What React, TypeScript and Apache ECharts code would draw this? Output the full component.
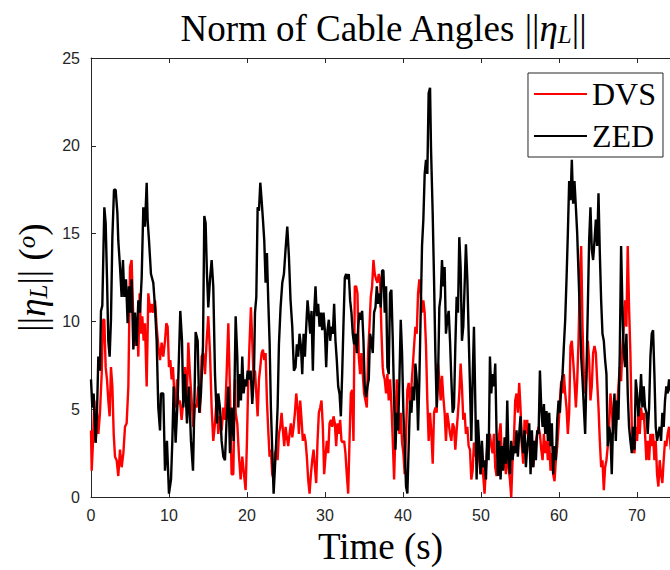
import React, { useEffect, useRef } from "react";
import * as echarts from "echarts";

const xTicks = [0, 10, 20, 30, 40, 50, 60, 70];
const xMax = 74.25;

const dvsData: [number, number][] = [
  [0.0, 3.8], [0.09, 1.5], [0.26, 3.2], [0.43, 5.5], [0.6, 3.1], [0.77, 4.8], [0.94, 3.6], [1.15, 4.8], [1.37, 7.0], [1.54, 10.1],
  [1.71, 10.1], [1.88, 7.4], [2.05, 6.7], [2.22, 5.5], [2.39, 4.6], [2.56, 7.4], [2.74, 6.3], [2.91, 3.6], [3.08, 2.3], [3.29, 2.1],
  [3.5, 1.2], [3.72, 2.7], [3.93, 1.7], [4.15, 2.5], [4.36, 4.0], [4.57, 4.2], [4.79, 6.3], [5.0, 13.1], [5.21, 13.5], [5.38, 10.8],
  [5.56, 8.6], [5.73, 9.7], [5.9, 10.1], [6.07, 8.0], [6.24, 11.6], [6.41, 9.3], [6.58, 10.3], [6.75, 8.9], [6.92, 9.9], [7.14, 6.3],
  [7.35, 11.6], [7.61, 10.5], [7.78, 11.0], [7.99, 10.5], [8.21, 11.2], [8.42, 9.7], [8.63, 8.6], [8.85, 7.8], [9.06, 8.8], [9.27, 8.0],
  [9.49, 8.9], [9.66, 9.9], [9.83, 9.7], [10.0, 7.4], [10.17, 7.8], [10.34, 6.7], [10.51, 7.4], [10.68, 5.9], [10.85, 5.1], [11.03, 6.7],
  [11.2, 5.3], [11.41, 5.5], [11.62, 4.4], [11.84, 5.5], [12.05, 7.4], [12.26, 5.1], [12.48, 8.8], [12.69, 7.0], [12.91, 5.5], [13.12, 4.0],
  [13.33, 5.3], [13.55, 5.1], [13.76, 6.3], [13.97, 4.8], [14.19, 8.0], [14.4, 8.2], [14.62, 7.0], [14.83, 8.9], [15.04, 10.3], [15.26, 8.2],
  [15.47, 5.1], [15.68, 3.2], [15.9, 4.2], [16.11, 5.7], [16.32, 3.6], [16.54, 4.6], [16.75, 3.8], [16.97, 5.1], [17.18, 4.4], [17.39, 7.0],
  [17.61, 9.9], [17.82, 6.1], [18.03, 1.3], [18.25, 1.3], [18.46, 6.7],
  [18.55, 4.8], [18.76, 4.2], [18.98, 2.3], [19.19, 1.0], [19.4, 2.3], [19.62, 1.3], [19.83, 0.4], [20.0, 3.2], [20.17, 6.7], [20.34, 8.9],
  [20.51, 10.8], [20.68, 8.9], [20.85, 6.7], [21.03, 7.2], [21.2, 5.9], [21.37, 4.6], [21.54, 6.7], [21.71, 7.4], [21.88, 8.2], [22.05, 8.4],
  [22.22, 7.8], [22.39, 8.2], [22.56, 5.5], [22.73, 3.8], [22.9, 2.3], [23.07, 2.7], [23.24, 1.3], [23.42, 1.0], [23.59, 2.5], [23.76, 2.7],
  [23.93, 2.1], [24.1, 3.6], [24.27, 4.0], [24.44, 4.8], [24.61, 3.8], [24.78, 2.9], [24.95, 4.0], [25.12, 3.4], [25.29, 2.9], [25.46, 3.6],
  [25.63, 4.2], [25.81, 3.4], [25.98, 4.0], [26.15, 4.8], [26.32, 5.9], [26.49, 5.1], [26.66, 3.6], [26.83, 5.5], [27.0, 4.4], [27.17, 3.2],
  [27.34, 3.6], [27.51, 3.2], [27.68, 2.3], [27.85, 1.0], [28.03, 0.2], [28.2, 1.3], [28.37, 2.1], [28.54, 2.7], [28.71, 1.7], [28.88, 0.8],
  [29.05, 3.2], [29.22, 4.8], [29.39, 5.1], [29.56, 5.5], [29.73, 4.0], [29.9, 1.3], [30.07, 2.3], [30.24, 3.2], [30.42, 2.5], [30.59, 4.2],
  [30.76, 4.4], [30.93, 4.0], [31.1, 4.6], [31.27, 4.2], [31.44, 2.9], [31.61, 4.2], [31.78, 3.6], [31.95, 4.4], [32.12, 3.2], [32.29, 3.1],
  [32.46, 3.2], [32.63, 2.5], [32.8, 1.3], [32.98, 0.2], [33.15, 3.2], [33.32, 5.9], [33.49, 6.1], [33.66, 3.2], [33.83, 12.0], [34.0, 12.0],
  [34.17, 11.6], [34.34, 8.0], [34.51, 7.0], [34.68, 8.2], [34.85, 7.0], [35.02, 5.9], [35.2, 5.5], [35.37, 5.1], [35.54, 8.2], [35.71, 9.7],
  [35.88, 11.4], [36.05, 12.0], [36.22, 13.5], [36.39, 12.7], [36.56, 12.4], [36.73, 12.2], [36.9, 12.7], [37.07, 12.4], [37.24, 9.5], [37.41, 7.4],
  [37.5, 7.0], [37.67, 6.7], [37.84, 5.9], [38.01, 7.0], [38.18, 5.5], [38.35, 6.7], [38.52, 5.3], [38.7, 3.2], [38.87, 1.0], [39.04, 3.8],
  [39.21, 6.7], [39.38, 4.8], [39.55, 3.6], [39.72, 4.8], [39.89, 3.1], [40.06, 2.5], [40.23, 1.3], [40.4, 3.6], [40.57, 6.1], [40.74, 6.5],
  [40.91, 5.3], [41.09, 6.3], [41.26, 7.4], [41.43, 8.6], [41.6, 9.7], [41.77, 9.3], [41.94, 11.6], [42.11, 12.4], [42.28, 11.6], [42.45, 10.5],
  [42.62, 11.2], [42.79, 10.5], [42.96, 8.6], [43.13, 5.5], [43.3, 3.2], [43.48, 4.8], [43.65, 3.6], [43.82, 1.9], [43.99, 4.8], [44.16, 5.1],
  [44.33, 4.8], [44.5, 7.6], [44.67, 6.7], [44.84, 5.5], [45.01, 6.9], [45.18, 5.7], [45.35, 4.8], [45.52, 3.2], [45.69, 4.8], [45.87, 4.2],
  [46.04, 3.6], [46.21, 3.2], [46.38, 4.2], [46.55, 4.0], [46.72, 2.7], [46.89, 3.8], [47.06, 4.8], [47.23, 5.9], [47.4, 7.6], [47.57, 6.3],
  [47.74, 4.4], [47.91, 4.8], [48.08, 3.6], [48.26, 4.0], [48.43, 2.9], [48.6, 2.7], [48.77, 1.0], [48.94, 1.5], [49.11, 3.1], [49.28, 2.3],
  [49.45, 3.6], [49.62, 3.2], [49.79, 2.1], [49.96, 1.3], [50.13, 2.1], [50.3, 1.2], [50.47, 0.2], [50.65, 1.7], [50.82, 2.9], [50.99, 3.2],
  [51.16, 3.6], [51.33, 2.9], [51.5, 2.5], [51.67, 3.6], [51.84, 1.7], [52.01, 1.2], [52.18, 1.9], [52.35, 3.6], [52.52, 4.2], [52.69, 2.3],
  [52.86, 1.7], [53.04, 2.3], [53.21, 1.3], [53.38, 2.7], [53.55, 1.7], [53.72, 1.0], [53.89, 0.0], [54.06, 2.1], [54.23, 3.2], [54.4, 5.5],
  [54.57, 5.9], [54.74, 4.8], [54.91, 6.5], [55.08, 5.1], [55.25, 2.9], [55.43, 1.9], [55.6, 4.4], [55.77, 3.6], [55.94, 4.4], [56.11, 2.9],
  [56.2, 3.2], [56.37, 2.1], [56.54, 3.2], [56.71, 1.7], [56.88, 2.5], [57.05, 3.2], [57.22, 3.6], [57.4, 4.0], [57.57, 3.6], [57.74, 2.7],
  [57.91, 2.1], [58.08, 3.6], [58.25, 2.5], [58.42, 3.2], [58.59, 2.1], [58.76, 3.2], [58.93, 1.5], [59.1, 2.5], [59.27, 1.3], [59.44, 0.9],
  [59.61, 2.1], [59.79, 2.9], [59.96, 4.0], [60.13, 5.5], [60.3, 6.6], [60.47, 5.9], [60.64, 7.0], [60.81, 5.9], [60.98, 5.1], [61.15, 3.6],
  [61.32, 4.8], [61.49, 8.6], [61.66, 8.9], [61.83, 7.8], [62.0, 6.6], [62.18, 5.1], [62.35, 6.6], [62.52, 8.9], [62.69, 12.4], [62.86, 14.3],
  [63.03, 9.7], [63.2, 7.0], [63.37, 5.9], [63.54, 7.0], [63.71, 8.9], [63.88, 7.8], [64.05, 5.5], [64.22, 6.3], [64.39, 8.2], [64.57, 8.6],
  [64.74, 8.2], [64.91, 6.6], [65.08, 5.1], [65.25, 3.2], [65.42, 1.7], [65.59, 2.1], [65.76, 0.4], [65.93, 1.7], [66.1, 2.1], [66.27, 2.9],
  [66.44, 4.0], [66.61, 5.9], [66.78, 5.1], [66.96, 3.6], [67.13, 5.1], [67.3, 4.0], [67.47, 5.1], [67.64, 6.3], [67.81, 7.4], [67.98, 6.6],
  [68.15, 8.6], [68.32, 9.7], [68.49, 11.2], [68.66, 9.7], [68.83, 14.3], [69.0, 10.8], [69.17, 8.2], [69.35, 4.0], [69.52, 2.9], [69.69, 2.5],
  [69.86, 4.0], [70.03, 3.2], [70.2, 4.8], [70.37, 3.6], [70.54, 5.1], [70.71, 4.4], [70.88, 4.8], [71.05, 3.6], [71.22, 2.1], [71.39, 3.2],
  [71.57, 2.1], [71.74, 3.6], [71.91, 2.9], [72.08, 3.6], [72.25, 2.1], [72.42, 3.2], [72.59, 1.3], [72.76, 0.6], [72.93, 2.1], [73.1, 1.3],
  [73.27, 0.8], [73.44, 2.1], [73.61, 3.2], [73.78, 2.9], [73.95, 3.6], [74.13, 4.0], [74.35, 2.7],
];

const zedData: [number, number][] = [
  [0.0, 6.7], [0.17, 5.1], [0.34, 5.9], [0.6, 3.1], [0.77, 4.8], [0.94, 8.0], [1.15, 7.2], [1.28, 10.6], [1.45, 10.9], [1.71, 16.5],
  [1.88, 15.6], [2.05, 12.5], [2.22, 8.9], [2.39, 8.0], [2.56, 10.1], [2.74, 14.8], [2.95, 17.5], [3.16, 17.5], [3.38, 16.2], [3.5, 14.6],
  [3.72, 13.1], [3.93, 11.4], [4.1, 13.5], [4.27, 11.4], [4.49, 12.4], [4.7, 9.9], [4.87, 12.0], [5.04, 10.5], [5.21, 12.4], [5.43, 8.4],
  [5.64, 10.5], [5.85, 8.6], [6.07, 11.2], [6.28, 10.5], [6.5, 12.5], [6.71, 16.5], [6.92, 15.4], [7.14, 17.9], [7.26, 15.8], [7.44, 14.6],
  [7.69, 12.7], [7.99, 12.2], [8.21, 10.8], [8.42, 8.9], [8.63, 5.1], [8.85, 3.8], [8.97, 5.9], [9.27, 5.9], [9.49, 1.5], [9.74, 3.2],
  [10.0, 0.2], [10.26, 1.0], [10.43, 3.2], [10.6, 6.3], [10.85, 3.1], [11.11, 5.5], [11.45, 10.6], [11.67, 8.9], [11.84, 5.1], [12.05, 7.0],
  [12.31, 4.2], [12.56, 6.3], [12.82, 3.2], [13.08, 1.5], [13.25, 5.1], [13.42, 9.4], [13.68, 8.9], [13.89, 4.8], [14.1, 5.9], [14.36, 8.6],
  [14.53, 16.0], [14.7, 15.6], [14.87, 12.7], [15.04, 10.8], [15.26, 12.4], [15.47, 13.5], [15.68, 12.0], [15.9, 7.0], [16.15, 4.2], [16.32, 5.9],
  [16.54, 5.1], [16.75, 3.2], [16.97, 2.3], [17.18, 2.1], [17.39, 4.4], [17.61, 6.3], [17.82, 2.5], [18.03, 5.1], [18.29, 3.2],
  [18.55, 10.3], [18.76, 8.0], [18.89, 5.1], [19.06, 7.0], [19.23, 5.5], [19.4, 8.0], [19.57, 5.9], [19.75, 6.7], [19.92, 6.3], [20.09, 7.2],
  [20.26, 6.7], [20.47, 7.2], [20.68, 5.3], [20.9, 7.0], [21.03, 10.5], [21.2, 11.4], [21.37, 16.5], [21.54, 16.3], [21.71, 17.9], [21.88, 16.9],
  [22.05, 15.8], [22.22, 14.6], [22.39, 12.2], [22.56, 13.9], [22.73, 11.2], [22.9, 8.9], [23.07, 5.1], [23.24, 2.7], [23.42, 0.2], [23.59, 1.7],
  [23.76, 3.2], [23.93, 5.1], [24.1, 8.7], [24.31, 10.8], [24.53, 12.2], [24.74, 12.7], [24.95, 14.1], [25.17, 15.4], [25.38, 13.7], [25.59, 11.2],
  [25.81, 9.7], [26.02, 7.2], [26.23, 7.4], [26.4, 8.7], [26.57, 8.0], [26.74, 9.3], [26.92, 8.6], [27.09, 7.0], [27.26, 9.3], [27.43, 8.0],
  [27.6, 9.7], [27.77, 11.2], [27.94, 10.3], [28.11, 9.3], [28.28, 10.6], [28.45, 7.2], [28.62, 10.5], [28.79, 12.0], [28.96, 10.3], [29.13, 11.0],
  [29.31, 9.7], [29.48, 10.5], [29.65, 9.5], [29.82, 10.5], [29.99, 9.5], [30.16, 7.4], [30.33, 9.5], [30.5, 10.1], [30.67, 8.9], [30.84, 9.7],
  [31.01, 9.3], [31.18, 11.0], [31.35, 8.9], [31.52, 7.8], [31.7, 6.3], [31.87, 5.9], [32.04, 4.6], [32.21, 7.0], [32.38, 9.9], [32.55, 12.5],
  [32.72, 12.7], [32.89, 12.4], [33.06, 12.7], [33.23, 11.2], [33.4, 10.5], [33.57, 9.3], [33.74, 8.7], [33.91, 9.3], [34.09, 8.2], [34.26, 9.7],
  [34.43, 10.5], [34.6, 10.1], [34.77, 10.6], [34.94, 8.9], [35.11, 6.3], [35.28, 5.7], [35.45, 6.3], [35.62, 6.7], [35.79, 9.3], [35.96, 8.9],
  [36.13, 8.2], [36.3, 10.5], [36.48, 10.8], [36.65, 12.0], [36.82, 11.0], [36.99, 11.6], [37.16, 10.8], [37.33, 12.9],
  [37.5, 12.9], [37.67, 10.5], [37.84, 12.0], [38.01, 7.4], [38.18, 7.0], [38.35, 11.6], [38.52, 11.8], [38.7, 8.9], [38.87, 5.5], [39.04, 2.7],
  [39.21, 4.8], [39.38, 3.8], [39.55, 6.7], [39.72, 10.1], [39.89, 8.2], [40.06, 4.8], [40.23, 2.9], [40.4, 0.6], [40.57, 0.2], [40.74, 2.9],
  [40.91, 5.5], [41.09, 4.8], [41.26, 6.3], [41.43, 5.5], [41.6, 7.6], [41.77, 6.7], [41.94, 3.8], [42.11, 6.7], [42.28, 10.5], [42.45, 14.3],
  [42.62, 15.8], [42.79, 18.4], [42.96, 19.2], [43.13, 18.4], [43.3, 23.0], [43.48, 23.3], [43.6, 19.9], [43.82, 16.1], [43.99, 12.4], [44.16, 8.2],
  [44.33, 5.1], [44.5, 6.7], [44.67, 10.8], [44.84, 11.4], [45.01, 13.5], [45.18, 12.0], [45.35, 13.1], [45.52, 9.3], [45.69, 10.1], [45.87, 10.6],
  [46.04, 8.9], [46.21, 6.7], [46.38, 4.8], [46.55, 5.1], [46.72, 8.6], [46.89, 11.4], [47.06, 10.5], [47.23, 14.8], [47.4, 13.1], [47.57, 8.9],
  [47.74, 9.7], [47.91, 12.0], [48.08, 14.4], [48.26, 12.4], [48.43, 9.3], [48.6, 6.3], [48.77, 3.2], [48.94, 6.7], [49.11, 9.7], [49.28, 5.5],
  [49.45, 1.0], [49.62, 4.4], [49.79, 2.9], [49.96, 1.3], [50.13, 3.2], [50.3, 1.7], [50.47, 2.1], [50.65, 1.0], [50.82, 3.6], [50.99, 2.1],
  [51.16, 8.0], [51.33, 5.9], [51.5, 7.0], [51.67, 6.3], [51.84, 7.6], [52.01, 3.6], [52.18, 1.2], [52.35, 3.2], [52.52, 1.0], [52.69, 2.9],
  [52.86, 1.5], [53.04, 3.4], [53.21, 1.9], [53.38, 5.5], [53.55, 2.1], [53.72, 1.3], [53.89, 3.2], [54.06, 2.1], [54.23, 2.9], [54.4, 2.5],
  [54.57, 3.8], [54.74, 2.3], [54.91, 3.6], [55.08, 4.6], [55.25, 3.2], [55.43, 2.5], [55.6, 3.8], [55.77, 1.7], [55.94, 2.9], [56.11, 3.6],
  [56.2, 4.2], [56.37, 1.3], [56.54, 3.8], [56.71, 1.7], [56.88, 3.2], [57.05, 2.1], [57.22, 3.8], [57.4, 3.6], [57.57, 7.2], [57.74, 5.1],
  [57.91, 4.0], [58.08, 5.3], [58.25, 3.6], [58.42, 4.9], [58.59, 3.2], [58.76, 4.8], [58.93, 2.9], [59.1, 4.2], [59.27, 1.3], [59.44, 2.9],
  [59.61, 2.1], [59.79, 4.4], [59.96, 5.5], [60.13, 4.8], [60.3, 6.3], [60.47, 7.0], [60.64, 8.6], [60.81, 10.1], [60.98, 12.4], [61.15, 15.0],
  [61.32, 18.0], [61.49, 16.9], [61.66, 19.2], [61.83, 16.7], [62.0, 18.0], [62.18, 16.5], [62.35, 15.0], [62.52, 12.7], [62.69, 10.5], [62.86, 8.0],
  [63.03, 6.7], [63.2, 5.1], [63.37, 3.6], [63.54, 7.0], [63.71, 10.8], [63.88, 14.6], [64.05, 16.5], [64.22, 14.1], [64.39, 13.5], [64.57, 14.6],
  [64.74, 15.8], [64.91, 14.3], [65.08, 17.3], [65.25, 13.9], [65.42, 11.2], [65.59, 9.3], [65.76, 8.9], [65.93, 7.8], [66.1, 7.0], [66.27, 2.9],
  [66.44, 4.0], [66.61, 3.6], [66.78, 1.3], [66.96, 4.4], [67.13, 5.9], [67.3, 3.2], [67.47, 5.5], [67.64, 4.4], [67.81, 8.2], [67.98, 14.3],
  [68.15, 10.8], [68.32, 8.2], [68.49, 7.4], [68.66, 9.3], [68.83, 5.9], [69.0, 4.0], [69.17, 3.2], [69.35, 2.5], [69.52, 4.0], [69.69, 2.7],
  [69.86, 6.7], [70.03, 5.9], [70.2, 4.6], [70.37, 5.5], [70.54, 7.0], [70.71, 5.1], [70.88, 6.3], [71.05, 5.1], [71.22, 4.8], [71.39, 3.6],
  [71.57, 5.1], [71.74, 8.0], [71.91, 9.3], [72.08, 9.5], [72.25, 7.0], [72.42, 4.0], [72.59, 3.2], [72.76, 3.6], [72.93, 4.0], [73.1, 3.2],
  [73.27, 4.8], [73.44, 4.0], [73.61, 5.5], [73.78, 6.3], [73.95, 5.9], [74.13, 6.7], [74.35, 6.0],
];

export default function App() {
  const ref = useRef<HTMLDivElement>(null);

  useEffect(() => {
    if (!ref.current) return;
    const chart = echarts.init(ref.current, null, { renderer: "svg" });
    const serif = "'Liberation Serif', 'Times New Roman', serif";
    const sans = "'Liberation Sans', Arial, Helvetica, sans-serif";
    const axisColor = "#262626";
    const rich = {
      it: { fontFamily: serif, fontStyle: "italic", fontSize: 37, color: "#000" },
      bar: { fontFamily: serif, fontSize: 37, color: "#000" },
      sub: { fontFamily: serif, fontStyle: "italic", fontSize: 25, lineHeight: 12, verticalAlign: "bottom", color: "#000" },
      sup: { fontFamily: serif, fontStyle: "italic", fontSize: 25, lineHeight: 12, verticalAlign: "top", color: "#000" },
    };
    const axisLine = { show: true, onZero: false, lineStyle: { color: axisColor, width: 1 } };

    chart.setOption({
      animation: false,
      backgroundColor: "#ffffff",
      title: {
        text: "Norm of Cable Angles {bar|||}{it|η}{sub|L}{bar|||}",
        left: 383,
        top: 10,
        textAlign: "center",
        padding: 0,
        textStyle: { fontFamily: serif, fontSize: 37, fontWeight: "normal", color: "#000", rich },
      },
      grid: { left: 91, right: 0, top: 58, bottom: 72, containLabel: false },
      legend: {
        data: ["DVS", "ZED"],
        orient: "vertical",
        right: 7,
        top: 73,
        padding: [5, 7, 5, 6],
        itemGap: 10,
        itemWidth: 53,
        itemHeight: 2,
        icon: "rect",
        backgroundColor: "#ffffff",
        borderColor: axisColor,
        borderWidth: 1,
        borderRadius: 0,
        textStyle: { fontFamily: serif, fontSize: 32, color: "#000" },
      },
      xAxis: [
        {
          type: "value",
          position: "bottom",
          min: 0,
          max: xMax,
          name: "Time (s)",
          nameLocation: "middle",
          nameGap: 30,
          nameTextStyle: { fontFamily: serif, fontSize: 37, color: "#000" },
          axisLine,
          axisTick: { show: true, inside: true, length: 5, customValues: xTicks, lineStyle: { color: axisColor } },
          axisLabel: { customValues: xTicks, margin: 10, fontFamily: sans, fontSize: 16, color: axisColor },
          splitLine: { show: false },
        },
        {
          type: "value",
          position: "top",
          min: 0,
          max: xMax,
          axisLine,
          axisTick: { show: true, inside: true, length: 5, customValues: xTicks, lineStyle: { color: axisColor } },
          axisLabel: { show: false },
          splitLine: { show: false },
        },
      ],
      yAxis: {
        type: "value",
        min: 0,
        max: 25,
        interval: 5,
        name: "{bar|||}{it|η}{sub|L}{bar|||} ({sup|o})",
        nameLocation: "middle",
        nameRotate: 90,
        nameGap: 39,
        nameTextStyle: { fontFamily: serif, fontSize: 37, color: "#000", rich },
        axisLine,
        axisTick: { show: true, inside: true, length: 5, lineStyle: { color: axisColor } },
        axisLabel: { margin: 11, fontFamily: sans, fontSize: 16, color: axisColor },
        splitLine: { show: false },
      },
      series: [
        {
          name: "DVS",
          type: "line",
          data: dvsData,
          symbol: "none",
          showSymbol: false,
          clip: true,
          lineStyle: { color: "#ff0000", width: 2.4 },
          itemStyle: { color: "#ff0000" },
          z: 2,
        },
        {
          name: "ZED",
          type: "line",
          data: zedData,
          symbol: "none",
          showSymbol: false,
          clip: true,
          lineStyle: { color: "#000000", width: 2.4 },
          itemStyle: { color: "#000000" },
          z: 3,
        },
      ],
    });

    return () => {
      chart.dispose();
    };
  }, []);

  return (
    <div
      ref={ref}
      style={{ position: "absolute", left: 0, top: 0, width: 670, height: 570, background: "#fff" }}
    />
  );
}
